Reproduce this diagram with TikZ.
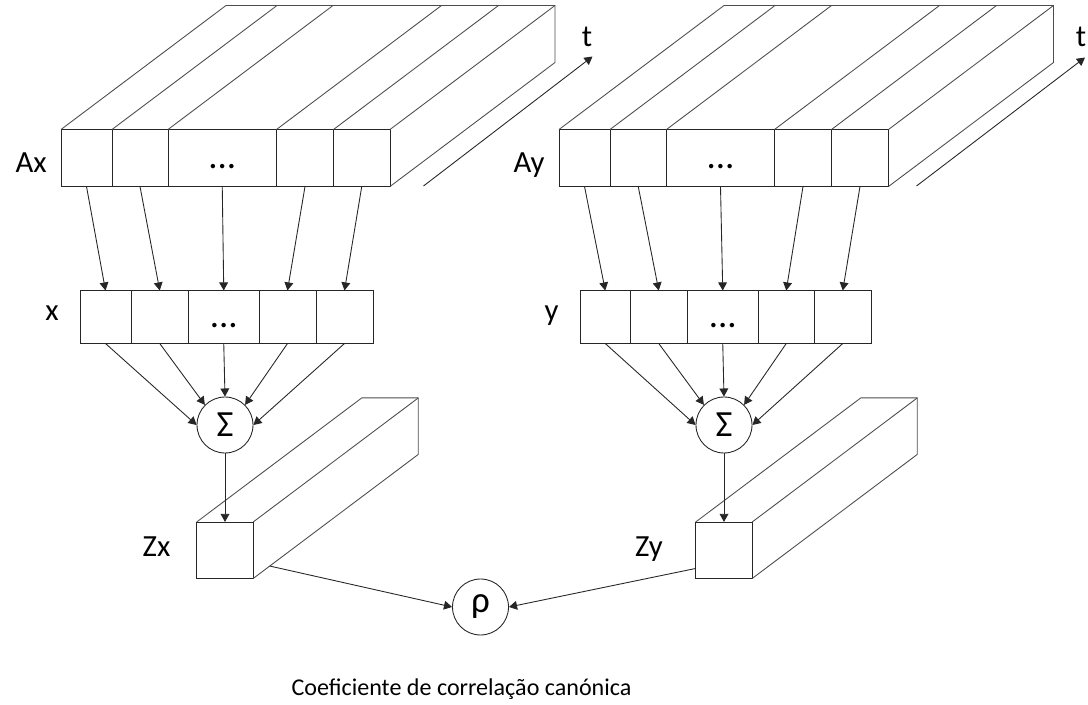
\documentclass[tikz,border=0pt]{standalone}
\usepackage{fontspec}
\setmainfont{Carlito}
\usepackage{tikz}
\usetikzlibrary{positioning,arrows.meta,calc}
\definecolor{ink}{HTML}{262626}
\definecolor{wire}{HTML}{4D4D4D}
\newcommand{\dpth}{3.3,2.48}

\begin{document}
\begin{tikzpicture}[
  font=\fontsize{17.5}{20}\selectfont,
  cell/.style={draw=ink, line width=0.5pt, inner sep=0pt, outer sep=0pt,
               minimum height=11.4mm, text height=12.4pt, text depth=0pt,
               font=\fontsize{21}{24}\selectfont},
  rowcell/.style={cell, minimum height=10.6mm},
  prism/.style={draw=ink, line width=0.5pt, inner sep=0pt, outer sep=0pt, minimum size=11.3mm},
  op/.style={circle, draw=ink, line width=0.5pt, inner sep=0pt, minimum size=11.2mm,
             font=\fontsize{21}{24}\selectfont},
  lbl/.style={inner sep=0pt},
  small/.style={inner sep=0pt, font=\fontsize{13.7}{16}\selectfont},
  edge/.style={draw=wire, line width=0.5pt},
  link/.style={draw=ink, line width=0.5pt, -{Triangle[length=4.6pt, width=5pt]}}
]
\useasboundingbox (0,0) rectangle (21.76,14.08);

% source blocks, front faces
\node[cell, anchor=north west, minimum width=10.2mm] (ax1) at (1.22,11.49) {};
\node[cell, right=0pt of ax1, minimum width=11.2mm] (ax2) {};
\node[cell, right=0pt of ax2, minimum width=21.7mm] (ax3) {...};
\node[cell, right=0pt of ax3, minimum width=11.4mm] (ax4) {};
\node[cell, right=0pt of ax4, minimum width=11.3mm] (ax5) {};

\node[cell, anchor=north west, minimum width=10.2mm] (ay1) at (11.18,11.49) {};
\node[cell, right=0pt of ay1, minimum width=11.3mm] (ay2) {};
\node[cell, right=0pt of ay2, minimum width=21.6mm] (ay3) {...};
\node[cell, right=0pt of ay3, minimum width=11.4mm] (ay4) {};
\node[cell, right=0pt of ay4, minimum width=11.4mm] (ay5) {};

% top and side faces
\draw[edge] (ax1.north west) -- ++(\dpth) -- ($(ax5.north east)+(\dpth)$) -- ++(0,-1.14) -- (ax5.south east);
\draw[edge] (ax2.north west) -- ++(\dpth);
\draw[edge] (ax3.north west) -- ++(\dpth);
\draw[edge] (ax4.north west) -- ++(\dpth);
\draw[edge] (ax5.north west) -- ++(\dpth);
\draw[edge] (ax5.north east) -- ++(\dpth);

\draw[edge] (ay1.north west) -- ++(\dpth) -- ($(ay5.north east)+(\dpth)$) -- ++(0,-1.14) -- (ay5.south east);
\draw[edge] (ay2.north west) -- ++(\dpth);
\draw[edge] (ay3.north west) -- ++(\dpth);
\draw[edge] (ay4.north west) -- ++(\dpth);
\draw[edge] (ay5.north west) -- ++(\dpth);
\draw[edge] (ay5.north east) -- ++(\dpth);

\node[lbl, anchor=base east] (axl) at ($(ax1.west)+(-2.8mm,-3mm)$) {Ax};
\node[lbl, anchor=base east] (ayl) at ($(ay1.west)+(-2.8mm,-3mm)$) {Ay};

% time axes
\coordinate (tx0) at (8.47,10.36);
\coordinate (tx1) at (11.85,12.95);
\coordinate (ty0) at (18.33,10.36);
\coordinate (ty1) at (21.70,12.93);
\draw[link] (tx0) -- (tx1);
\draw[link] (ty0) -- (ty1);
\node[lbl, above=1.9mm of tx1, xshift=-1.1mm] (txl) {t};
\node[lbl, above=2mm of ty1, xshift=-0.8mm] (tyl) {t};

% weighted rows
\node[rowcell, anchor=north west, minimum width=10.2mm] (x1) at (1.6,8.27) {};
\node[rowcell, right=0pt of x1, minimum width=11.5mm] (x2) {};
\node[rowcell, right=0pt of x2, minimum width=14.1mm] (x3) {...};
\node[rowcell, right=0pt of x3, minimum width=11.4mm] (x4) {};
\node[rowcell, right=0pt of x4, minimum width=11.4mm] (x5) {};

\node[rowcell, anchor=north west, minimum width=10.1mm] (y1) at (11.6,8.27) {};
\node[rowcell, right=0pt of y1, minimum width=11.3mm] (y2) {};
\node[rowcell, right=0pt of y2, minimum width=14.3mm] (y3) {...};
\node[rowcell, right=0pt of y3, minimum width=11.1mm] (y4) {};
\node[rowcell, right=0pt of y4, minimum width=11.5mm] (y5) {};

\node[lbl, anchor=base east] (xl) at ($(x1.west)+(-4.2mm,-0.7mm)$) {x};
\node[lbl, anchor=base east] (yl) at ($(y1.west)+(-4.2mm,-0.7mm)$) {y};

\draw[link] (ax1.south) -- (x1.north);
\draw[link] (ax2.south) -- (x2.north);
\draw[link] (ax3.south) -- (x3.north);
\draw[link] (ax4.south) -- (x4.north);
\draw[link] (ax5.south) -- (x5.north);
\draw[link] (ay1.south) -- (y1.north);
\draw[link] (ay2.south) -- (y2.north);
\draw[link] (ay3.south) -- (y3.north);
\draw[link] (ay4.south) -- (y4.north);
\draw[link] (ay5.south) -- (y5.north);

% sums
\node[op] (sx) at (4.5,5.58) {Σ};
\node[op] (sy) at (14.48,5.58) {Σ};

\draw[link] (x1.south) -- (sx.west);
\draw[link] (x2.south) -- (sx.north west);
\draw[link] (x3.south) -- (sx.north);
\draw[link] (x4.south) -- (sx.north east);
\draw[link] (x5.south) -- (sx.east);
\draw[link] (y1.south) -- (sy.west);
\draw[link] (y2.south) -- (sy.north west);
\draw[link] (y3.south) -- (sy.north);
\draw[link] (y4.south) -- (sy.north east);
\draw[link] (y5.south) -- (sy.east);

% canonical variates
\node[prism, below=13.7mm of sx] (zx) {};
\node[prism, below=13.7mm of sy] (zy) {};
\draw[edge] (zx.north west) -- ++(\dpth) -- ($(zx.north east)+(\dpth)$) -- ++(0,-1.13) -- (zx.south east);
\draw[edge] (zx.north east) -- ++(\dpth);
\draw[edge] (zy.north west) -- ++(\dpth) -- ($(zy.north east)+(\dpth)$) -- ++(0,-1.13) -- (zy.south east);
\draw[edge] (zy.north east) -- ++(\dpth);

\node[lbl, anchor=base east] (zxl) at ($(zx.west)+(-5.2mm,-1.3mm)$) {Zx};
\node[lbl, anchor=base east] (zyl) at ($(zy.west)+(-6.5mm,-1.3mm)$) {Zy};

\draw[link] (sx.south) -- (zx.north);
\draw[link] (sy.south) -- (zy.north);

% correlation
\node[op] (rho) at (9.61,1.94) {ρ};
\coordinate (zxo) at ($(zx.south east)+0.1*(\dpth)$);
\coordinate (zyo) at ($(zy.south west)+(0,0.2)$);
\draw[link] (zxo) -- (rho.west);
\draw[link] (zyo) -- (rho.east);

\node[small, anchor=base] (cap) at (9.23,0.18) {Coeficiente de correlação canónica};
\end{tikzpicture}
\end{document}
